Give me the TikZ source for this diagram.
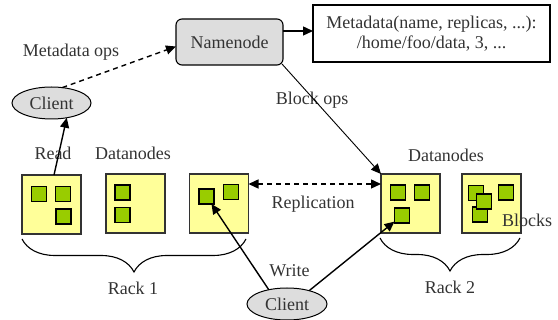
\documentclass[tikz,border=0pt]{standalone}
\usepackage{fontspec}
\setmainfont{Liberation Serif}
\usetikzlibrary{arrows.meta,shapes.geometric,decorations.pathreplacing}
\definecolor{nodegray}{HTML}{DDDDDD}
\definecolor{dnyellow}{HTML}{FFFF99}
\definecolor{blkgreen}{HTML}{99CC00}
\definecolor{edge}{HTML}{333333}
\begin{document}
\begin{tikzpicture}[x=1pt,y=-1pt,
  font=\rmfamily\fontsize{18}{20}\selectfont,
  every node/.style={inner sep=0pt,outer sep=0pt},
  lbl/.style={text=black!80},
  dnbox/.style={draw=edge,line width=1.2pt,fill=dnyellow,minimum width=59pt,minimum height=59pt},
  blk/.style={draw=black,line width=1.2pt,fill=blkgreen,minimum width=15pt,minimum height=15pt},
  client/.style={ellipse,draw=black,line width=1pt,fill=nodegray,minimum width=79pt,minimum height=32pt},
  arr/.style={line width=1.4pt,-{Triangle[length=10pt,width=9pt]}},
  darr/.style={arr,dash pattern=on 5pt off 4pt},
  rack/.style={line width=1.1pt,decorate,decoration={brace,mirror,amplitude=33pt}}
]
\useasboundingbox (0,0) rectangle (558,320);

% Namenode and metadata
\node[draw=black,line width=1.1pt,rounded corners=6pt,fill=nodegray,minimum width=107pt,minimum height=46pt,lbl] (nn) at (229.5,42) {Namenode};
\node[draw=black,line width=1.1pt,minimum width=237pt,minimum height=57pt,align=center,lbl] (meta) at (431.5,33.5) {Metadata(name, replicas, ...):\\/home/foo/data, 3, ...};

% Clients
\node[client,lbl] (c1) at (51.5,103) {Client};
\node[client,lbl,minimum width=80pt] (c2) at (287,304) {Client};

% Datanodes
\node[dnbox] (dn1) at (51.5,204.5) {};
\node[dnbox] (dn2) at (135.5,203.5) {};
\node[dnbox] (dn3) at (219,203.5) {};
\node[dnbox] (dn4) at (410.5,203.5) {};
\node[dnbox] (dn5) at (491.5,203.5) {};

% Blocks
\node[blk] (b11) at (39,194) {};
\node[blk] (b12) at (63,194) {};
\node[blk] (b13) at (63.5,216.5) {};
\node[blk] (b21) at (122.5,192.5) {};
\node[blk] (b22) at (122.5,215) {};
\node[blk] (b31) at (206.5,196.5) {};
\node[blk] (b32) at (231,192) {};
\node[blk] (b41) at (398,192.5) {};
\node[blk] (b42) at (422,192.5) {};
\node[blk] (b43) at (402,215.5) {};
\node[blk] (b51) at (476,193) {};
\node[blk] (b52) at (480,214.5) {};
\node[blk] (b53) at (484,201.5) {};
\node[blk] (b54) at (506,192.5) {};

% Labels
\node[lbl] (tmops) at (71,52) {Metadata ops};
\node[lbl] (tread) at (53,153) {Read};
\node[lbl] (tdn1) at (133,153) {Datanodes};
\node[lbl] (tbops) at (312,100) {Block ops};
\node[lbl] (tdn2) at (446,155) {Datanodes};
\node[lbl] (trep) at (313,204) {Replication};
\node[lbl] (tblk) at (527,220) {Blocks};
\node[lbl] (twrite) at (289.5,271) {Write};
\node[lbl] (track1) at (133,288) {Rack 1};
\node[lbl] (track2) at (450,287) {Rack 2};

% Connectors
\draw[darr] (c1.55) -- ([yshift=-4.5pt]nn.west);
\draw[arr] ([xshift=2.5pt]dn1.north) -- (c1.-44);
\draw[arr] ([yshift=11pt]nn.east) -- ([yshift=11pt]nn.east -| meta.west);
\draw[line width=0.9pt,-{Triangle[length=10pt,width=9pt]}] ([xshift=-1pt,yshift=1pt]nn.south east) -- (dn4.north west);
\draw[darr,{Triangle[length=10pt,width=9pt]}-{Triangle[length=10pt,width=9pt]}] ([yshift=-10pt]dn3.north east) -- ([yshift=-10pt]dn4.north west);
\draw[arr] (c2.142) -- (b31);
\draw[arr] (c2.31) -- (b43);

% Racks
\coordinate (r1a) at (22,239);
\coordinate (r1b) at (246,239);
\coordinate (r2a) at (380,238);
\coordinate (r2b) at (520,238);
\draw[rack] (r1a) -- (r1b);
\draw[rack] (r2a) -- (r2b);
\end{tikzpicture}
\end{document}
